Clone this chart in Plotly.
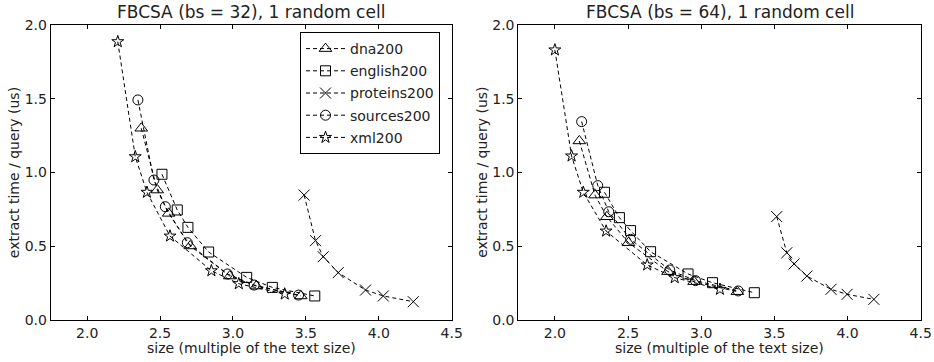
import plotly.graph_objects as go

# ---------------- data ----------------
series_names = ["dna200", "english200", "proteins200", "sources200", "xml200"]

# left panel: FBCSA (bs = 32)
bs32_dna_x = [2.371, 2.481, 2.559, 2.707, 2.978, 3.160, 3.465]
bs32_dna_y = [1.300, 0.881, 0.723, 0.502, 0.298, 0.230, 0.163]
bs32_eng_x = [2.513, 2.618, 2.691, 2.833, 3.094, 3.270, 3.561]
bs32_eng_y = [0.988, 0.746, 0.628, 0.461, 0.289, 0.221, 0.163]
bs32_pro_x = [3.488, 3.566, 3.619, 3.722, 3.909, 4.031, 4.237]
bs32_pro_y = [0.847, 0.538, 0.429, 0.321, 0.203, 0.163, 0.124]
bs32_src_x = [2.348, 2.458, 2.536, 2.687, 2.962, 3.145, 3.450]
bs32_src_y = [1.492, 0.949, 0.768, 0.524, 0.312, 0.237, 0.169]
bs32_xml_x = [2.210, 2.330, 2.410, 2.568, 2.852, 3.040, 3.355]
bs32_xml_y = [1.887, 1.107, 0.866, 0.569, 0.334, 0.246, 0.176]

# right panel: FBCSA (bs = 64)
bs64_dna_x = [2.167, 2.274, 2.355, 2.503, 2.773, 2.951, 3.247]
bs64_dna_y = [1.214, 0.847, 0.700, 0.524, 0.328, 0.260, 0.192]
bs64_eng_x = [2.339, 2.441, 2.517, 2.654, 2.910, 3.077, 3.363]
bs64_eng_y = [0.866, 0.694, 0.606, 0.463, 0.312, 0.253, 0.185]
bs64_pro_x = [3.516, 3.585, 3.635, 3.722, 3.887, 3.997, 4.180]
bs64_pro_y = [0.701, 0.456, 0.380, 0.298, 0.208, 0.174, 0.140]
bs64_src_x = [2.183, 2.293, 2.368, 2.517, 2.785, 2.961, 3.253]
bs64_src_y = [1.345, 0.911, 0.734, 0.547, 0.339, 0.267, 0.197]
bs64_xml_x = [2.000, 2.114, 2.194, 2.350, 2.631, 2.819, 3.128]
bs64_xml_y = [1.831, 1.112, 0.866, 0.603, 0.373, 0.287, 0.208]

x_ticks = [2.0, 2.5, 3.0, 3.5, 4.0, 4.5]
x_tick_labels = ["2.0", "2.5", "3.0", "3.5", "4.0", "4.5"]
y_ticks = [0.0, 0.5, 1.0, 1.5, 2.0]
y_tick_labels = ["0.0", "0.5", "1.0", "1.5", "2.0"]

titles = ["FBCSA (bs = 32), 1 random cell", "FBCSA (bs = 64), 1 random cell"]
x_title = "size (multiple of the text size)"
y_title = "extract time / query (us)"

# ---------------- styling ----------------
W, H = 934, 362
FONT = "DejaVu Sans"
TXT = "#222222"
symbols = {"dna200": "triangle-up-open", "english200": "square-open",
           "proteins200": "x-thin-open", "sources200": "circle-open",
           "xml200": "star-open"}
msize = {"dna200": 11, "english200": 10, "proteins200": 11,
         "sources200": 10, "xml200": 9}

panels = [
    {"dna200": (bs32_dna_x, bs32_dna_y), "english200": (bs32_eng_x, bs32_eng_y),
     "proteins200": (bs32_pro_x, bs32_pro_y), "sources200": (bs32_src_x, bs32_src_y),
     "xml200": (bs32_xml_x, bs32_xml_y)},
    {"dna200": (bs64_dna_x, bs64_dna_y), "english200": (bs64_eng_x, bs64_eng_y),
     "proteins200": (bs64_pro_x, bs64_pro_y), "sources200": (bs64_src_x, bs64_src_y),
     "xml200": (bs64_xml_x, bs64_xml_y)},
]

# pixel geometry of the two plot boxes
boxes = [(50.7, 451.7), (518.3, 920.7)]
top_px, bot_px = 25, 320

fig = go.Figure()
for p, data in enumerate(panels):
    xa = "x" if p == 0 else "x2"
    ya = "y" if p == 0 else "y2"
    for name in series_names:
        xs, ys = data[name]
        fig.add_trace(go.Scatter(
            x=xs, y=ys, mode="lines+markers", name=name,
            xaxis=xa, yaxis=ya, showlegend=(p == 0), legendgroup=name,
            line=dict(color="black", width=1, dash="4px,3px"),
            marker=dict(symbol=symbols[name], size=msize[name], color="black",
                        line=dict(color="black", width=1)),
        ))

axis_common = dict(
    showgrid=False, zeroline=False, showline=True, linecolor="black",
    linewidth=1, mirror="allticks", ticks="inside", ticklen=4,
    tickcolor="black", tickwidth=1, automargin=False,
    tickfont=dict(family=FONT, size=14, color=TXT),
)
layout = dict(
    width=W, height=H, margin=dict(l=0, r=0, t=0, b=0, autoexpand=False),
    paper_bgcolor="white", plot_bgcolor="white",
    font=dict(family=FONT, size=14, color=TXT),
    legend=dict(x=300 / W, y=(H - 32) / H, xanchor="left", yanchor="top",
                bordercolor="black", borderwidth=1, bgcolor="white",
                font=dict(family=FONT, size=14, color=TXT),
                traceorder="grouped", tracegroupgap=1, itemwidth=39),
    annotations=[],
)
ydom = [(H - bot_px) / H, (H - top_px) / H]
for p, (l, r) in enumerate(boxes):
    sx = "" if p == 0 else "2"
    layout["xaxis" + sx] = dict(axis_common, domain=[l / W, r / W], range=[1.75, 4.5],
                               tickvals=x_ticks, ticktext=x_tick_labels,
                               anchor="y" + sx)
    layout["yaxis" + sx] = dict(axis_common, domain=ydom, range=[0, 2.0],
                               tickvals=y_ticks, ticktext=y_tick_labels,
                               anchor="x" + sx)
    cx = (l + r) / 2
    layout["annotations"].append(dict(
        text=titles[p], x=cx / W, y=(H - 12) / H, xref="paper", yref="paper",
        xanchor="center", yanchor="middle", showarrow=False,
        font=dict(family=FONT, size=17, color=TXT)))
    layout["annotations"].append(dict(
        text=x_title, x=cx / W, y=(H - 348) / H, xref="paper", yref="paper",
        xanchor="center", yanchor="middle", showarrow=False,
        font=dict(family=FONT, size=14, color=TXT)))
    layout["annotations"].append(dict(
        text=y_title, x=(l - 37) / W, y=((H - bot_px) + (H - top_px)) / 2 / H,
        xref="paper", yref="paper", xanchor="center", yanchor="middle",
        textangle=-90, showarrow=False,
        font=dict(family=FONT, size=14, color=TXT)))

fig.update_layout(**layout)
fig.write_html("out.html", config={"displayModeBar": False},
               post_script="document.body.style.margin='0';document.body.style.overflow='hidden';")
